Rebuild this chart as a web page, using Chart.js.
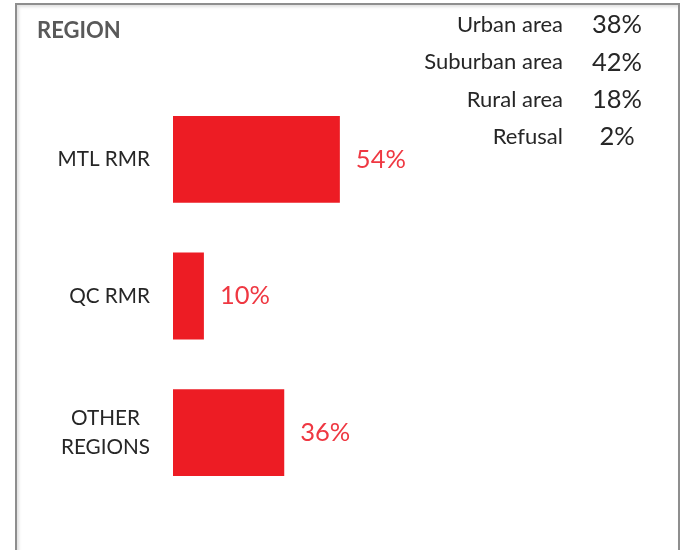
<!DOCTYPE html>
<html>
<head>
<meta charset="utf-8">
<script src="https://cdn.jsdelivr.net/npm/chart.js@4"></script>
<style>
  html, body { margin: 0; padding: 0; background: #fff; }
  #wrap { position: relative; width: 682px; height: 550px; overflow: hidden; }
  #frame {
    position: absolute; left: 15px; top: 3px; width: 661px; height: 560px;
    border: 2px solid #8e8e8e;
    box-shadow: inset 2px 2px 3px rgba(0,0,0,0.12);
  }
  canvas { position: absolute; left: 0; top: 0; }
</style>
</head>
<body>
<div id="wrap">
  <div id="frame"></div>
  <canvas id="regionChart" width="682" height="550"></canvas>
</div>
<script>
// Données
const categories = [['MTL RMR'], ['QC RMR'], ['OTHER', 'REGIONS']];
const shares = [54, 10, 36];
const areaLabels = ['Urban area', 'Suburban area', 'Rural area', 'Refusal'];
const areaShares = [38, 42, 18, 2];

const FONT = 'Lato, "Open Sans", sans-serif';
const RED = '#ED1C24';

// Textes dessinés à la main (titre, étiquettes, tableau)
const textPlugin = {
    id: 'texts',
    afterDatasetsDraw(chart) {
        const ctx = chart.ctx;
        const yScale = chart.scales.y;
        ctx.save();

        // titre
        ctx.fillStyle = '#595959';
        ctx.font = 'bold 22px ' + FONT;
        ctx.textAlign = 'left';
        ctx.textBaseline = 'middle';
        ctx.fillText('REGION', 37, 31);

        // catégories
        ctx.fillStyle = '#262626';
        ctx.font = '20.7px ' + FONT;
        categories.forEach((lines, i) => {
            const y = yScale.getPixelForTick(i);
            const widest = Math.max(...lines.map(l => ctx.measureText(l).width));
            const cx = 150 - widest / 2;
            ctx.textAlign = 'center';
            lines.forEach((l, j) => {
                ctx.fillText(l, cx, y + (j - (lines.length - 1) / 2) * 29);
            });
        });

        // valeurs des barres
        ctx.fillStyle = '#EF3842';
        ctx.font = '25.5px ' + FONT;
        ctx.textAlign = 'left';
        chart.getDatasetMeta(0).data.forEach((bar, i) => {
            ctx.fillText(shares[i] + '%', bar.x + 16, bar.y);
        });

        // tableau en haut à droite
        areaLabels.forEach((label, i) => {
            const y = 25 + i * 37.4;
            ctx.fillStyle = '#262626';
            ctx.font = '22px ' + FONT;
            ctx.textAlign = 'right';
            ctx.fillText(label, 563, y);
            ctx.font = '25.5px ' + FONT;
            ctx.textAlign = 'center';
            ctx.fillText(areaShares[i] + '%', 617, y);
        });

        ctx.restore();
    }
};

const config = {
    type: 'bar',
    data: {
        labels: categories,
        datasets: [{
            data: shares,
            backgroundColor: RED,
            borderWidth: 0,
            barPercentage: 0.635,
            categoryPercentage: 1
        }]
    },
    options: {
        indexAxis: 'y',
        responsive: false,
        animation: false,
        layout: {
            padding: { left: 173, right: 200, top: 91, bottom: 49 }
        },
        plugins: {
            legend: { display: false },
            tooltip: { enabled: false }
        },
        scales: {
            x: { min: 0, max: 100, display: false },
            y: { display: false }
        }
    },
    plugins: [textPlugin]
};

new Chart(document.getElementById('regionChart'), config);
</script>
</body>
</html>
